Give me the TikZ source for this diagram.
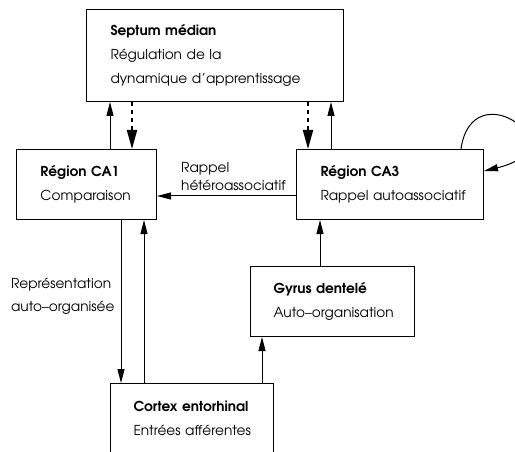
\documentclass[tikz,border=0pt]{standalone}
\usepackage{fontspec}
\setmainfont{TeX Gyre Adventor}
\usepackage{tikz}
\usetikzlibrary{arrows.meta,positioning}

\begin{document}
\begin{tikzpicture}[x=1pt,y=-1pt,
    bx/.style={draw,line width=1pt,anchor=north west,inner xsep=24pt,align=left,font=\fontsize{13.7}{24}\selectfont},
    fl/.style={-{Triangle[length=14pt,width=7pt]},line width=1pt},
    fp/.style={-{Triangle[length=19pt,width=10pt]},line width=2pt,dash pattern=on 4pt off 4pt}]
    \useasboundingbox (0,0) rectangle (515,452);
    \node[bx,minimum width=257pt,minimum height=92pt,text width=209pt] (sm) at (86,9)
      {\textbf{Septum médian}\\Régulation de la\\\mbox{dynamique d’apprentissage}};
    \node[bx,minimum width=140pt,minimum height=70pt,text width=92pt] (ca1) at (16,149)
      {\mbox{\textbf{Région CA1}}\\Comparaison};
    \node[bx,minimum width=187pt,minimum height=70pt,text width=139pt] (ca3) at (296,149)
      {\textbf{Région CA3}\\\mbox{Rappel autoassociatif}};
    \node[bx,inner xsep=23pt,minimum width=164pt,minimum height=70pt,text width=118pt] (gd) at (250,266)
      {\textbf{Gyrus dentelé}\\\mbox{Auto--organisation}};
    \node[bx,inner xsep=23pt,minimum width=163pt,minimum height=70pt,text width=117pt] (ce) at (110,383)
      {\mbox{\textbf{Cortex entorhinal}}\\\mbox{Entrées afférentes}};
    % septum <-> CA1 / CA3
    \draw[fl] ([xshift=94pt]ca1.north west) -- ([xshift=24pt]sm.south west);
    \draw[fp] ([xshift=46pt]sm.south west) -- ([xshift=116pt]ca1.north west);
    \draw[fp] ([xshift=222pt]sm.south west) -- ([xshift=12pt]ca3.north west);
    \draw[fl] ([xshift=35pt]ca3.north west) -- ([xshift=245pt]sm.south west);
    \draw[fl] ([yshift=-47pt]ca3.north west) -- node[above,pos=0.45,align=left,inner xsep=1pt,inner ysep=5pt,font=\fontsize{13.7}{18}\selectfont] (rh) {Rappel\\hétéroassociatif} ([yshift=-47pt]ca1.north east);
    \draw[fl] ([xshift=-23pt]ca3.north east) .. controls (472,70) and (580,148) .. ([yshift=-22pt]ca3.north east);
    % boucle entorhinale
    \draw[fl] ([xshift=105pt]ca1.south west) -- node[left,pos=0.47,align=left,inner xsep=6pt,font=\fontsize{13.7}{23}\selectfont] (ra) {Représentation\\auto--organisée} ([xshift=11pt]ce.north west);
    \draw[fl] ([xshift=34pt]ce.north west) -- ([xshift=128pt]ca1.south west);
    \draw[fl] ([xshift=152pt]ce.north west) -- ([xshift=12pt]gd.south west);
    \draw[fl] ([xshift=70pt]gd.north west) -- ([xshift=24pt]ca3.south west);
  \end{tikzpicture}
\end{document}
